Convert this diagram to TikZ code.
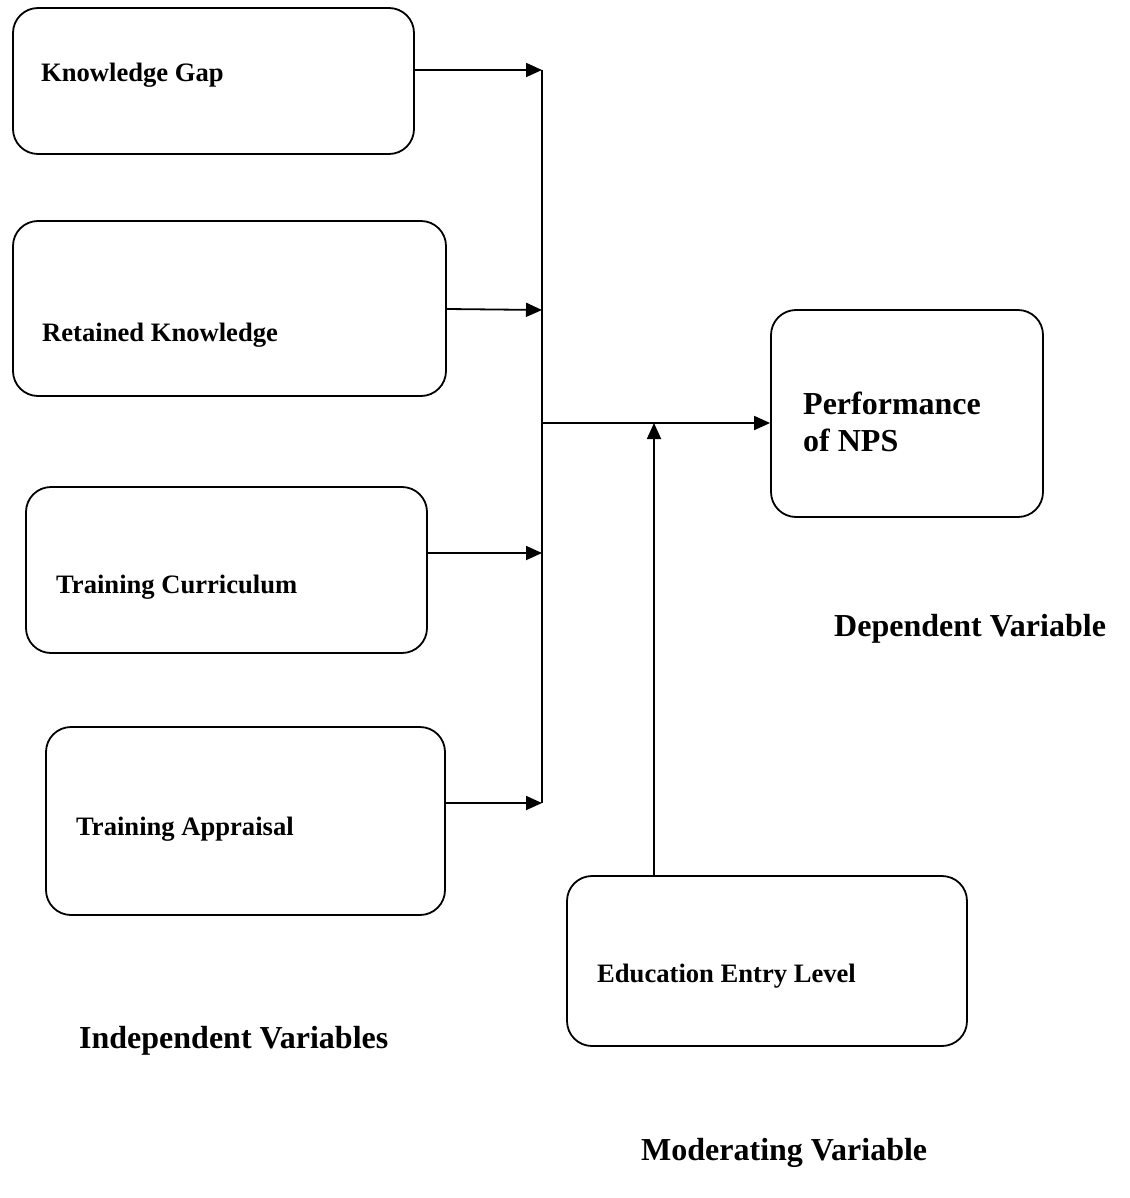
\documentclass[tikz,border=0pt]{standalone}
\usepackage{fontspec}
\setmainfont{Liberation Serif}
\usetikzlibrary{arrows.meta}
\tikzset{
	box/.style={draw,line width=1.8pt,rounded corners=25pt,inner sep=0pt},
	arr/.style={line width=1.8pt,-{Triangle[length=16pt,width=14pt]}},
	txt/.style={anchor=base west,inner sep=0pt,font=\fontsize{26.6}{30}\selectfont\bfseries},
	ttl/.style={anchor=base west,inner sep=0pt,font=\fontsize{32}{37}\selectfont\bfseries}
}
\begin{document}
\begin{tikzpicture}[x=1pt,y=-1pt]
		\useasboundingbox (0,0) rectangle (1129,1198);
		% boxes
		\node[box,minimum width=401pt,minimum height=146pt] (kg) at (213.5,81) {};
		\node[box,minimum width=433pt,minimum height=175pt] (rk) at (229.5,308.5) {};
		\node[box,minimum width=401pt,minimum height=166pt] (tc) at (226.5,570) {};
		\node[box,minimum width=399pt,minimum height=188pt] (ta) at (245.5,821) {};
		\node[box,minimum width=272pt,minimum height=207pt] (pn) at (907,413.5) {};
		\node[box,minimum width=400pt,minimum height=170pt] (eel) at (767,961) {};
		\node[txt] (kgt) at (41,82) {Knowledge Gap};
		\node[txt] (rkt) at (42,341) {Retained Knowledge};
		\node[txt] (tct) at (56,593) {Training Curriculum};
		\node[txt] (tat) at (76,835) {Training Appraisal};
		\node[txt] (eelt) at (597,982) {Education Entry Level};
		\node[ttl] (pnt) at (803,414) {Performance};
		\node[ttl] (pnt2) at (803,451) {of NPS};
		% titles
		\node[ttl] (dep) at (834,636) {Dependent Variable};
		\node[ttl] (ind) at (79,1048) {Independent Variables};
		\node[ttl] (mod) at (641,1160) {Moderating Variable};
		% bus
		\coordinate (kgin) at (542,70);
		\coordinate (rkin) at (542,310);
		\coordinate (tcin) at (542,553);
		\coordinate (tain) at (542,803);
		\coordinate (hub) at (542,423);
		\coordinate (join) at (654,423);
		\draw[line width=1.8pt] (kgin) -- (tain);
		\draw[arr] (kg.east |- kgin) -- (kgin);
		\draw[arr] (rk.east |- 0,309) -- (rkin);
		\draw[arr] (tc.east |- tcin) -- (tcin);
		\draw[arr] (ta.east |- tain) -- (tain);
		\draw[arr] (hub) -- (pn.west |- hub);
		\draw[arr] (eel.north -| join) -- (join);
	\end{tikzpicture}
\end{document}
